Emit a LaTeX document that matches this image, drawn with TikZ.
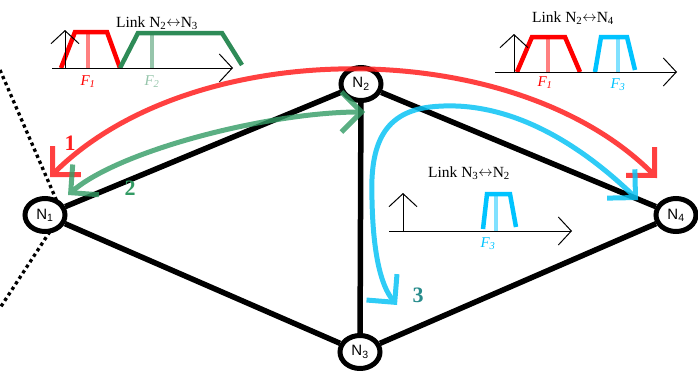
\documentclass[tikz,border=0pt]{standalone}
\usepackage{fontspec}
\setmainfont{Liberation Serif}
\newfontfamily\arialf{Liberation Sans}
\usetikzlibrary{arrows.meta,shapes.geometric}
\definecolor{arcred}{RGB}{255,30,30}
\definecolor{arcgreen}{RGB}{50,155,100}
\definecolor{arccyan}{RGB}{10,195,245}
\definecolor{specred}{RGB}{255,0,0}
\definecolor{specgreen}{RGB}{46,139,87}
\definecolor{speccyan}{RGB}{0,195,255}
\definecolor{numteal}{RGB}{40,140,140}
\newcommand{\lrarrow}{\raisebox{0.5pt}{$\leftrightarrow$}}
\tikzset{
  netnode/.style={ellipse, draw=black, line width=5pt, fill=white,
    minimum width=40pt, minimum height=33pt, inner sep=0pt,
    font=\arialf\fontsize{15}{15}\selectfont},
  link/.style={line width=5.5pt, black},
  dotline/.style={line width=3.3pt, black, dash pattern=on 3.3pt off 3.3pt},
  axisline/.style={line width=1pt, black, -{Straight Barb[length=13pt, width=28pt]}},
  trap/.style={line width=4.5pt, line join=miter},
  fmark/.style={line width=4pt},
  flabel/.style={font=\fontsize{15}{15}\selectfont\itshape, inner sep=0pt},
  ttl/.style={font=\fontsize{15.5}{16}\selectfont, anchor=base, inner sep=0pt},
  arcline/.style={line width=5pt,
    {Straight Barb[length=20pt, width=40pt]}-{Straight Barb[length=20pt, width=40pt]}},
  num/.style={font=\bfseries\fontsize{22}{22}\selectfont, inner sep=0pt}
}
\begin{document}
\begin{tikzpicture}[x=1pt,y=-1pt]
\useasboundingbox (0,0) rectangle (698,370);

% dotted boundary
\coordinate (d1) at (0,70);
\coordinate (dv) at (62,213);
\coordinate (d2) at (0,308);
\draw[dotline] (d1) -- (dv) -- (d2);

% network nodes
\node[netnode] (n1) at (45,215) {N\textsubscript{1}};
\node[netnode] (n2) at (361,84) {N\textsubscript{2}};
\node[netnode] (n3) at (360,352) {N\textsubscript{3}};
\node[netnode] (n4) at (676,215) {N\textsubscript{4}};

\draw[link] (n1) -- (n2);
\draw[link] (n1) -- (n3);
\draw[link] (n2) -- (n3);
\draw[link] (n2) -- (n4);
\draw[link] (n3) -- (n4);

% inset 1: Link N2<->N3
\node[ttl] (t1) at (157,27) {Link N\textsubscript{2}\lrarrow N\textsubscript{3}};
\draw[fmark, specred!50] (88,32) -- (88,68);
\draw[fmark, specgreen!50] (152,33) -- (152,68);
\draw[trap, specred] (61,68) -- (75,32) -- (107,32) -- (120,68);
\draw[trap, specgreen] (120,68) -- (138,33) -- (222,33) -- (242,65);
\draw[axisline] (65,68) -- (65,30);
\draw[axisline] (52,68) -- (233,68);
\node[flabel, text=specred] (fa1) at (88,82) {F\textsubscript{1}};
\node[flabel, text=specgreen!50] (fa2) at (152,82) {F\textsubscript{2}};

% inset 2: Link N2<->N4
\node[ttl] (t2) at (573,22) {Link N\textsubscript{2}\lrarrow N\textsubscript{4}};
\draw[fmark, specred!50] (548,37) -- (548,72);
\draw[fmark, speccyan!50] (618,37) -- (618,72);
\draw[trap, specred] (517,72) -- (532,37) -- (565,37) -- (580,72);
\draw[trap, speccyan] (595,72) -- (601,37) -- (627,37) -- (635,70);
\draw[axisline] (514,72) -- (514,34);
\draw[axisline] (495,72) -- (677,72);
\node[flabel, text=specred] (fb1) at (545,83) {F\textsubscript{1}};
\node[flabel, text=speccyan] (fb3) at (618,85) {F\textsubscript{3}};

% inset 3: Link N3<->N2
\node[ttl] (t3) at (469,177) {Link N\textsubscript{3}\lrarrow N\textsubscript{2}};
\draw[fmark, speccyan!50] (496,194) -- (496,231);
\draw[trap, speccyan] (483,229) -- (487,194) -- (510,194) -- (516,227);
\draw[axisline] (403,231) -- (403,193);
\draw[axisline] (389,231) -- (572,231);
\node[flabel, text=speccyan] (fc3) at (488,244) {F\textsubscript{3}};

% lightpath arcs
\coordinate (r1) at (50,177);
\coordinate (r2) at (657,178);
\coordinate (g1) at (68,195);
\coordinate (g2) at (365,112);
\coordinate (c1) at (638,200);
\coordinate (c2) at (397,305);
\begin{scope}[transparency group, opacity=0.85]
\draw[arcline, arcred] (r1) .. controls (193,34) and (514,34) .. (r2);
\end{scope}
\begin{scope}[transparency group, opacity=0.8]
\draw[arcline, arcgreen] (g1) .. controls (120,150) and (270,112) .. (g2);
\end{scope}
\begin{scope}[transparency group, opacity=0.85]
\draw[arcline, arccyan] (c1) .. controls (560,125) and (490,100) .. (430,107)
  .. controls (380,113) and (370,150) .. (372,200)
  .. controls (373,250) and (380,285) .. (c2);
\end{scope}

\node[num, text=arcred] (l1) at (70,143) {1};
\node[num, text=arcgreen] (l2) at (130,188) {2};
\node[num, text=numteal] (l3) at (418,295) {3};
\end{tikzpicture}
\end{document}
